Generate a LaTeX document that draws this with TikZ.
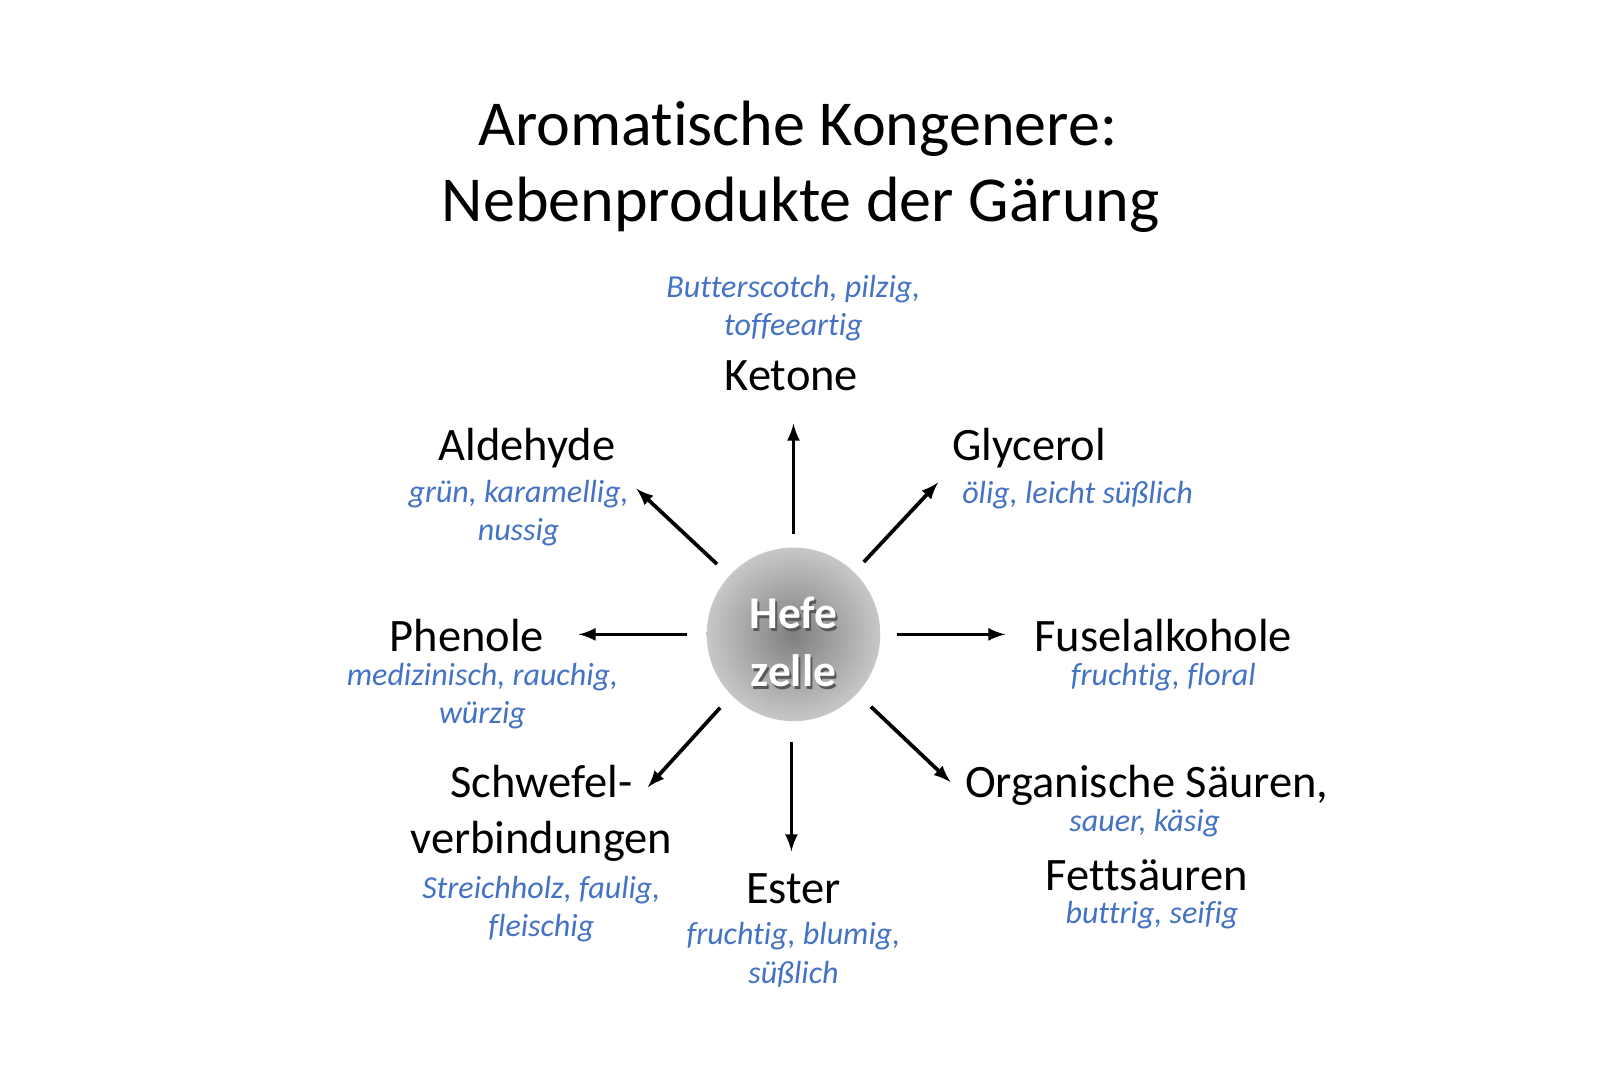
\documentclass[tikz,border=0pt]{standalone}
\usepackage{fontspec}
\setmainfont[RawFeature=-liga]{Carlito}
\definecolor{lblue}{RGB}{68,114,196}
\begin{document}
\begin{tikzpicture}[x=0.5pt,y=-0.5pt,
  head/.style={font=\fontsize{31}{36}\selectfont,align=center},
  lab/.style={font=\fontsize{22.5}{26}\selectfont,align=center},
  des/.style={font=\fontsize{15.5}{18.5}\selectfont\itshape,text=lblue,align=center},
  hefe/.style={font=\fontsize{22}{28}\selectfont\bfseries,align=center},
  arr/.style={-latex,line width=1.8pt}]
\useasboundingbox (0,0) rectangle (1568,1045);
\node[head] (t1) at (772,125) {Aromatische Kongenere:};
\node[head] (t2) at (775,198) {Nebenprodukte der Gärung};
\shade[inner color=black!50,outer color=black!22] (768,614) circle (84);
\node[hefe,text=black!65] (cs) at (770,624) {Hefe\\zelle};
\node[hefe,text=white] (ct) at (768,621) {Hefe\\zelle};
\node[des] (d1) at (768,298) {Butterscotch, pilzig,\\toffeeartig};
\node[lab] (n1) at (766,364) {Ketone};
\node[lab] (n2) at (510,434) {Aldehyde};
\node[des] (d2) at (502,497) {grün, karamellig,\\nussig};
\node[lab] (n3) at (996,434) {Glycerol};
\node[des] (d3) at (1043,479) {ölig, leicht süßlich};
\node[lab] (n4) at (452,615) {Phenole};
\node[des] (d4) at (467,674) {medizinisch, rauchig,\\würzig};
\node[lab] (n5) at (1126,615) {Fuselalkohole};
\node[des] (d5) at (1126,655) {fruchtig, floral};
\node[lab,font=\fontsize{22.5}{27}\selectfont] (n6) at (524,787) {Schwefel-\\verbindungen};
\node[des] (d6) at (524,880) {Streichholz, faulig,\\fleischig};
\node[lab] (n7) at (768,860) {Ester};
\node[des] (d7) at (768,924) {fruchtig, blumig,\\süßlich};
\node[lab] (n8) at (1110,760) {Organische Säuren,};
\node[des] (d8) at (1108,797) {sauer, käsig};
\node[lab] (n9) at (1110,847) {Fettsäuren};
\node[des] (d9) at (1115,886) {buttrig, seifig};
\coordinate (s1) at (768,517); \coordinate (e1) at (768,410);
\coordinate (s2) at (694,546); \coordinate (e2) at (616,473);
\coordinate (s3) at (836,544); \coordinate (e3) at (908,467);
\coordinate (s4) at (665,614); \coordinate (e4) at (560,614);
\coordinate (s5) at (868,614); \coordinate (e5) at (973,614);
\coordinate (s6) at (697,685); \coordinate (e6) at (627,762);
\coordinate (s7) at (766,718); \coordinate (e7) at (766,824);
\coordinate (s8) at (843,684); \coordinate (e8) at (920,757);
\foreach \i in {1,...,8} {\draw[arr] (s\i) -- (e\i);}
\end{tikzpicture}
\end{document}
